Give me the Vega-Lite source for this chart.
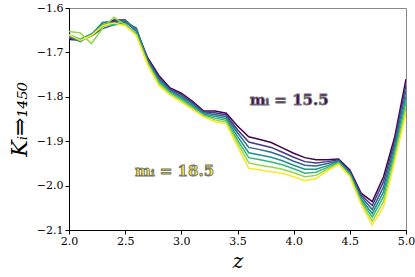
{
  "$schema": "https://vega.github.io/schema/vega-lite/v6.json",
  "width": 337,
  "height": 222,
  "autosize": {"type": "none"},
  "padding": {"left": 69, "top": 8, "right": 9, "bottom": 47},
  "background": "white",
  "config": {
    "view": {"stroke": "#888888", "strokeWidth": 1},
    "font": "DejaVu Serif"
  },
  "datasets": {
    "curves": [
      {"z": 2.0, "m155": -1.671, "m160": -1.668, "m165": -1.665, "m170": -1.664, "m175": -1.660, "m180": -1.653, "m185": -1.660},
      {"z": 2.1, "m155": -1.672, "m160": -1.673, "m165": -1.672, "m170": -1.676, "m175": -1.670, "m180": -1.656, "m185": -1.673},
      {"z": 2.2, "m155": -1.662, "m160": -1.660, "m165": -1.663, "m170": -1.660, "m175": -1.658, "m180": -1.680, "m185": -1.662},
      {"z": 2.3, "m155": -1.640, "m160": -1.633, "m165": -1.646, "m170": -1.632, "m175": -1.638, "m180": -1.645, "m185": -1.640},
      {"z": 2.4, "m155": -1.627, "m160": -1.630, "m165": -1.638, "m170": -1.633, "m175": -1.638, "m180": -1.621, "m185": -1.634},
      {"z": 2.5, "m155": -1.627, "m160": -1.630, "m165": -1.632, "m170": -1.628, "m175": -1.636, "m180": -1.638, "m185": -1.640},
      {"z": 2.6, "m155": -1.650, "m160": -1.652, "m165": -1.645, "m170": -1.650, "m175": -1.658, "m180": -1.660, "m185": -1.662},
      {"z": 2.7, "m155": -1.712, "m160": -1.715, "m165": -1.717, "m170": -1.720, "m175": -1.723, "m180": -1.725, "m185": -1.728},
      {"z": 2.8, "m155": -1.752, "m160": -1.756, "m165": -1.760, "m170": -1.764, "m175": -1.767, "m180": -1.771, "m185": -1.775},
      {"z": 2.9, "m155": -1.780, "m160": -1.783, "m165": -1.785, "m170": -1.788, "m175": -1.791, "m180": -1.793, "m185": -1.796},
      {"z": 3.0, "m155": -1.792, "m160": -1.795, "m165": -1.799, "m170": -1.802, "m175": -1.805, "m180": -1.809, "m185": -1.812},
      {"z": 3.1, "m155": -1.810, "m160": -1.813, "m165": -1.816, "m170": -1.820, "m175": -1.823, "m180": -1.826, "m185": -1.829},
      {"z": 3.2, "m155": -1.832, "m160": -1.834, "m165": -1.836, "m170": -1.839, "m175": -1.841, "m180": -1.843, "m185": -1.845},
      {"z": 3.3, "m155": -1.832, "m160": -1.836, "m165": -1.840, "m170": -1.844, "m175": -1.848, "m180": -1.852, "m185": -1.856},
      {"z": 3.4, "m155": -1.837, "m160": -1.841, "m165": -1.845, "m170": -1.849, "m175": -1.853, "m180": -1.857, "m185": -1.861},
      {"z": 3.5, "m155": -1.866, "m160": -1.874, "m165": -1.881, "m170": -1.889, "m175": -1.897, "m180": -1.904, "m185": -1.912},
      {"z": 3.6, "m155": -1.890, "m160": -1.902, "m165": -1.914, "m170": -1.926, "m175": -1.937, "m180": -1.949, "m185": -1.961},
      {"z": 3.7, "m155": -1.896, "m160": -1.908, "m165": -1.919, "m170": -1.931, "m175": -1.942, "m180": -1.954, "m185": -1.965},
      {"z": 3.8, "m155": -1.903, "m160": -1.914, "m165": -1.925, "m170": -1.936, "m175": -1.947, "m180": -1.958, "m185": -1.969},
      {"z": 3.9, "m155": -1.915, "m160": -1.925, "m165": -1.934, "m170": -1.944, "m175": -1.953, "m180": -1.963, "m185": -1.972},
      {"z": 4.0, "m155": -1.927, "m160": -1.936, "m165": -1.945, "m170": -1.954, "m175": -1.962, "m180": -1.971, "m185": -1.980},
      {"z": 4.1, "m155": -1.937, "m160": -1.946, "m165": -1.954, "m170": -1.963, "m175": -1.972, "m180": -1.980, "m185": -1.989},
      {"z": 4.2, "m155": -1.942, "m160": -1.949, "m165": -1.956, "m170": -1.963, "m175": -1.970, "m180": -1.977, "m185": -1.984},
      {"z": 4.3, "m155": -1.942, "m160": -1.946, "m165": -1.950, "m170": -1.955, "m175": -1.959, "m180": -1.963, "m185": -1.967},
      {"z": 4.4, "m155": -1.940, "m160": -1.942, "m165": -1.944, "m170": -1.946, "m175": -1.948, "m180": -1.950, "m185": -1.952},
      {"z": 4.5, "m155": -1.965, "m160": -1.968, "m165": -1.970, "m170": -1.973, "m175": -1.975, "m180": -1.978, "m185": -1.980},
      {"z": 4.6, "m155": -2.017, "m160": -2.021, "m165": -2.025, "m170": -2.030, "m175": -2.034, "m180": -2.038, "m185": -2.042},
      {"z": 4.7, "m155": -2.036, "m160": -2.045, "m165": -2.054, "m170": -2.063, "m175": -2.071, "m180": -2.080, "m185": -2.089},
      {"z": 4.8, "m155": -1.980, "m160": -1.991, "m165": -2.003, "m170": -2.014, "m175": -2.025, "m180": -2.037, "m185": -2.048},
      {"z": 4.9, "m155": -1.890, "m160": -1.899, "m165": -1.908, "m170": -1.918, "m175": -1.927, "m180": -1.936, "m185": -1.945},
      {"z": 5.0, "m155": -1.760, "m160": -1.773, "m165": -1.786, "m170": -1.799, "m175": -1.811, "m180": -1.824, "m185": -1.837}
    ],
    "labels": [
      {"z": 3.96, "K": -1.807, "label": "mᵢ = 15.5", "m": "m155"},
      {"z": 2.94, "K": -1.968, "label": "mᵢ = 18.5", "m": "m185"}
    ]
  },
  "layer": [
    {
      "data": {"name": "curves"},
      "transform": [
        {"fold": ["m155", "m160", "m165", "m170", "m175", "m180", "m185"], "as": ["m", "K"]}
      ],
      "mark": {"type": "line", "strokeWidth": 1.5, "clip": true},
      "encoding": {
        "x": {
          "field": "z", "type": "quantitative",
          "scale": {"domain": [2.0, 5.0], "nice": false},
          "axis": {
            "title": "z", "titleFont": "DejaVu Serif", "titleFontStyle": "italic", "titleFontWeight": "normal",
            "titleFontSize": 20, "titlePadding": 5, "titleColor": "black",
            "values": [2.0, 2.5, 3.0, 3.5, 4.0, 4.5, 5.0], "format": ".1f",
            "labelFont": "DejaVu Serif", "labelFontSize": 11, "labelColor": "black", "labelPadding": 1,
            "tickColor": "black", "tickSize": 4, "domainColor": "black", "grid": false, "labelFlush": false
          }
        },
        "y": {
          "field": "K", "type": "quantitative",
          "scale": {"domain": [-2.1, -1.6], "nice": false, "zero": false},
          "axis": {
            "title": "Kᵢ⇒₁₄₅₀", "titleFont": "DejaVu Serif", "titleFontStyle": "italic", "titleFontWeight": "normal",
            "titleFontSize": 22, "titlePadding": 5, "titleColor": "black",
            "values": [-2.1, -2.0, -1.9, -1.8, -1.7, -1.6], "format": ".1f",
            "labelFont": "DejaVu Serif", "labelFontSize": 11, "labelColor": "black", "labelPadding": 2,
            "tickColor": "black", "tickSize": 4, "domainColor": "black", "grid": false, "labelFlush": false
          }
        },
        "color": {
          "field": "m", "type": "nominal",
          "scale": {
            "domain": ["m155", "m160", "m165", "m170", "m175", "m180", "m185"],
            "range": ["#440154", "#443983", "#31688e", "#21918c", "#35b779", "#90d743", "#fde725"]
          },
          "legend": null
        },
        "order": {"field": "m", "sort": "descending"}
      }
    },
    {
      "data": {"name": "labels"},
      "mark": {"type": "text", "font": "DejaVu Serif", "fontWeight": "bold", "fontSize": 15, "stroke": "#707070", "strokeWidth": 0.9, "align": "center", "baseline": "middle"},
      "encoding": {
        "x": {"field": "z", "type": "quantitative"},
        "y": {"field": "K", "type": "quantitative"},
        "text": {"field": "label"},
        "fill": {
          "field": "m", "type": "nominal",
          "scale": {"domain": ["m155", "m185"], "range": ["#440154", "#fde725"]},
          "legend": null
        }
      }
    }
  ]
}
